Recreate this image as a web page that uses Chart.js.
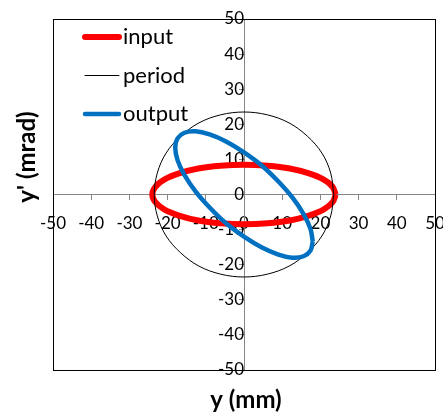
<!DOCTYPE html>
<html>
<head>
<meta charset="utf-8">
<script src="https://cdn.jsdelivr.net/npm/chart.js@4/dist/chart.umd.min.js"></script>
<style>
html, body { margin: 0; padding: 0; background: #fff; }
#wrap { width: 443px; height: 414px; }
</style>
</head>
<body>
<div id="wrap"><canvas id="myChart"></canvas></div>
<script>
// values (y in mm, y' in mrad)
const seriesNames = ["input", "period", "output"];

const inputY = [24, 23.2, 20.8, 17.0, 12.0, 6.2, 0, -6.2, -12.0, -17.0, -20.8, -23.2, -24, -23.2, -20.8, -17.0, -12.0, -6.2, 0, 6.2, 12.0, 17.0, 20.8, 23.2, 24];
const inputYp = [0, 2.2, 4.3, 6.0, 7.4, 8.2, 8.5, 8.2, 7.4, 6.0, 4.3, 2.2, 0, -2.2, -4.3, -6.0, -7.4, -8.2, -8.5, -8.2, -7.4, -6.0, -4.3, -2.2, 0];

const periodY = [23.5, 22.7, 20.4, 16.6, 11.8, 6.1, 0, -6.1, -11.8, -16.6, -20.4, -22.7, -23.5, -22.7, -20.4, -16.6, -11.8, -6.1, 0, 6.1, 11.8, 16.6, 20.4, 22.7, 23.5];
const periodYp = [0, 6.1, 11.8, 16.6, 20.4, 22.7, 23.5, 22.7, 20.4, 16.6, 11.8, 6.1, 0, -6.1, -11.8, -16.6, -20.4, -22.7, -23.5, -22.7, -20.4, -16.6, -11.8, -6.1, 0];

const outputY = [18, 17.4, 15.6, 12.7, 9.0, 4.7, 0, -4.7, -9.0, -12.7, -15.6, -17.4, -18, -17.4, -15.6, -12.7, -9.0, -4.7, 0, 4.7, 9.0, 12.7, 15.6, 17.4, 18];
const outputYp = [-13.4, -16.0, -17.6, -18.0, -17.1, -15.1, -12.0, -8.2, -3.7, 0.9, 5.6, 9.8, 13.4, 16.0, 17.6, 18.0, 17.1, 15.1, 12.0, 8.2, 3.7, -0.9, -5.6, -9.8, -13.4];

const axisMin = -50;
const axisMax = 50;
const axisStep = 10;

const toPoints = (xs, ys) => xs.map((x, i) => ({ x: x, y: ys[i] }));

const fontFamily = "Lato, 'Open Sans', sans-serif";

// frame round the plot area, axis titles and legend
const framePlugin = {
    id: "frame",
    afterDraw(chart) {
        const ctx = chart.ctx;
        const a = chart.chartArea;
        ctx.save();
        ctx.strokeStyle = "#000";
        ctx.lineWidth = 1;
        ctx.strokeRect(Math.round(a.left) + 0.5, Math.round(a.top) + 0.5, Math.round(a.right - a.left), Math.round(a.bottom - a.top));

        ctx.fillStyle = "#000";
        ctx.font = "bold 24px " + fontFamily;
        ctx.textAlign = "center";
        ctx.textBaseline = "middle";
        ctx.fillText("y (mm)", (a.left + a.right) / 2 + 2, 400);
        ctx.translate(27, 157);
        ctx.rotate(-Math.PI / 2);
        ctx.fillText("y' (mrad)", 0, 0);
        ctx.restore();

        ctx.save();
        ctx.font = "22px " + fontFamily;
        ctx.textAlign = "left";
        ctx.textBaseline = "middle";
        ctx.lineCap = "round";
        const rows = [37, 75.5, 114];
        chart.data.datasets.forEach((ds, i) => {
            ctx.strokeStyle = ds.borderColor;
            ctx.lineWidth = ds.borderWidth;
            ctx.beginPath();
            ctx.moveTo(85, rows[i]);
            ctx.lineTo(119, rows[i]);
            ctx.stroke();
            ctx.fillStyle = "#000";
            ctx.fillText(ds.label, 123, rows[i]);
        });
        ctx.restore();
    }
};

const ctx = document.getElementById("myChart").getContext("2d");
const myChart = new Chart(ctx, {
    type: "scatter",
    data: {
        datasets: [
            { label: seriesNames[0], data: toPoints(inputY, inputYp), borderColor: "#FF0000", borderWidth: 6, order: 2 },
            { label: seriesNames[1], data: toPoints(periodY, periodYp), borderColor: "#000000", borderWidth: 1, order: 1 },
            { label: seriesNames[2], data: toPoints(outputY, outputYp), borderColor: "#0070C0", borderWidth: 4.5, order: 0 }
        ].map(ds => Object.assign(ds, { showLine: true, tension: 0.35, pointRadius: 0, fill: false }))
    },
    options: {
        responsive: true,
        maintainAspectRatio: false,
        animation: false,
        layout: { padding: { left: 53, right: 8, top: 19, bottom: 44 } },
        plugins: { legend: { display: false }, tooltip: { enabled: false } },
        scales: {
            x: {
                type: "linear",
                min: axisMin,
                max: axisMax,
                position: { y: 0 },
                afterFit: s => { s.height = 0; s.paddingLeft = 0; s.paddingRight = 0; },
                ticks: { stepSize: axisStep, autoSkip: false, maxRotation: 0, padding: 14, color: "#000", font: { family: fontFamily, size: 17 } },
                grid: { drawOnChartArea: false, drawTicks: true, tickLength: 5, color: "#868686" },
                border: { display: true, color: "#868686", width: 1 }
            },
            y: {
                type: "linear",
                min: axisMin,
                max: axisMax,
                position: { x: 0 },
                afterFit: s => { s.width = 0; s.paddingTop = 0; s.paddingBottom = 0; },
                ticks: { stepSize: axisStep, autoSkip: false, padding: 12, color: "#000", font: { family: fontFamily, size: 17 } },
                grid: { drawOnChartArea: false, drawTicks: true, tickLength: 5, color: "#868686" },
                border: { display: true, color: "#868686", width: 1 }
            }
        }
    },
    plugins: [framePlugin]
});
</script>
</body>
</html>
